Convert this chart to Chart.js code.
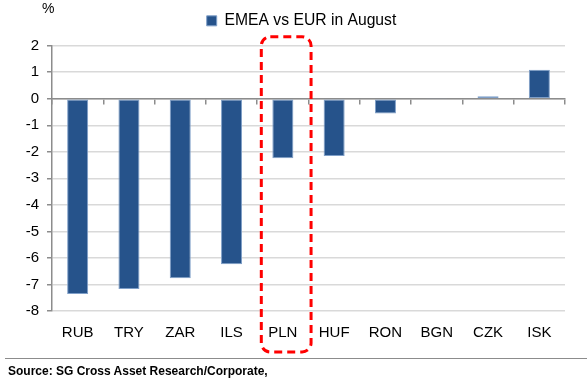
<!DOCTYPE html>
<html>
<head>
<meta charset="utf-8">
<script src="https://cdn.jsdelivr.net/npm/chart.js@4.4.0/dist/chart.umd.min.js"></script>
<style>
  body { margin: 0; background: #fff; font-family: 'Liberation Sans', Arial, sans-serif; }
  #wrap { position: relative; width: 587px; height: 392px; }
  #pct { position: absolute; left: 42px; top: 0px; font-size: 14px; color: #000; }
  #rule { position: absolute; left: 5px; right: 0; top: 358px; height: 0; border-top: 1.5px solid #8c8c8c; }
  #source { position: absolute; left: 8px; top: 364px; font-size: 12px; font-weight: bold; color: #000; }
</style>
</head>
<body>
<div id="wrap">
  <canvas id="chart" width="587" height="392"></canvas>
  <div id="pct">%</div>
  <div id="rule"></div>
  <div id="source">Source: SG Cross Asset Research/Corporate,</div>
</div>
<script>
const currencies = ['RUB', 'TRY', 'ZAR', 'ILS', 'PLN', 'HUF', 'RON', 'BGN', 'CZK', 'ISK'];
const augustChange = [-7.36, -7.17, -6.77, -6.24, -2.24, -2.16, -0.56, 0.02, 0.09, 1.09];
const seriesName = 'EMEA vs EUR in August';
const highlighted = 'PLN';

Chart.defaults.font.family = "'Liberation Sans', Arial, sans-serif";
Chart.defaults.color = '#000';

// nudge the legend: a bit higher and centred over the plot, not the canvas
const legendShift = {
  id: 'legendShift',
  afterLayout(chart) {
    chart.legend.top -= 7;
    chart.legend.left += 38;
  }
};

// dashed red frame around the highlighted currency
const highlightBox = {
  id: 'highlightBox',
  afterDraw(chart) {
    const x = chart.scales.x, y = chart.scales.y;
    const idx = currencies.indexOf(highlighted);
    const w = x.width / currencies.length;
    const c = x.getPixelForValue(idx);
    const left = c - 0.42 * w, right = c + 0.55 * w;
    const top = y.getPixelForValue(2) - 9;
    const bottom = chart.chartArea.bottom + 41;
    const ctx = chart.ctx;
    ctx.save();
    ctx.strokeStyle = '#ff0000';
    ctx.lineWidth = 3;
    ctx.setLineDash([8, 5]);
    ctx.beginPath();
    ctx.roundRect(left, top, right - left, bottom - top, 9);
    ctx.stroke();
    ctx.restore();
  }
};

new Chart(document.getElementById('chart'), {
  type: 'bar',
  data: {
    labels: currencies,
    datasets: [{
      label: seriesName,
      data: augustChange,
      backgroundColor: '#26538b',
      borderColor: '#7f9fc8',
      borderWidth: 1,
      borderSkipped: false,
      categoryPercentage: 1,
      barPercentage: 0.41
    }]
  },
  options: {
    responsive: false,
    animation: false,
    layout: { padding: { left: 0, right: 22, top: 10, bottom: 0 } },
    plugins: {
      legend: {
        display: true,
        labels: { boxWidth: 10, boxHeight: 10, padding: 10, font: { size: 15.7 } }
      },
      tooltip: { enabled: false }
    },
    scales: {
      x: {
        grid: { display: false, drawTicks: false },
        border: { display: false },
        ticks: { padding: 13, font: { size: 15 } },
        afterFit(scale) { scale.height = 81; }
      },
      x2: {
        type: 'category',
        labels: currencies,
        position: { y: 0 },
        offset: true,
        z: 1,
        ticks: { display: false },
        grid: { drawOnChartArea: false, color: '#8c8c8c', lineWidth: 1.5, tickLength: 5 },
        border: { color: '#8c8c8c', width: 1.5 }
      },
      y: {
        min: -8,
        max: 2,
        ticks: { stepSize: 1, padding: 8, font: { size: 15 } },
        grid: { color: '#d9d9d9', lineWidth: 1.5, tickColor: '#8c8c8c', tickLength: 5 },
        border: { color: '#8c8c8c', width: 1.5 },
        afterFit(scale) { scale.width = 52; }
      }
    }
  },
  plugins: [legendShift, highlightBox]
});
</script>
</body>
</html>
